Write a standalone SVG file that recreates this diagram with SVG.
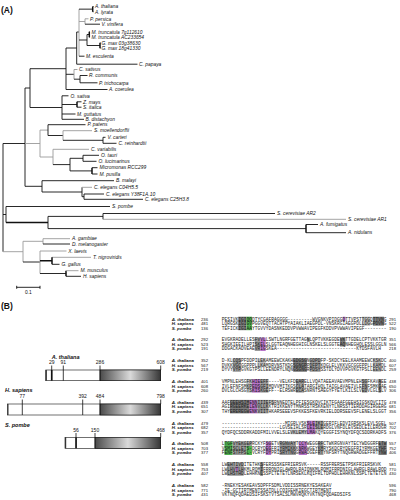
<svg xmlns="http://www.w3.org/2000/svg" width="400" height="500" viewBox="0 0 400 500">
<style>
.pl{font-family:"Liberation Sans",Arial,sans-serif;font-weight:bold;font-size:8.5px;fill:#111}
.lf{font-family:"Liberation Sans",Arial,sans-serif;font-style:italic;font-size:4.9px;fill:#111}
.br{fill:none;stroke:#111;stroke-width:0.9}
.gr{fill:none;stroke:#9a9a9a;stroke-width:0.9}
.tk{fill:none;stroke:#111;stroke-width:1.5}
.sp{font-family:"Liberation Sans",Arial,sans-serif;font-style:italic;font-weight:bold;font-size:5.5px;fill:#111}
.nm{font-family:"Liberation Sans",Arial,sans-serif;font-size:5px;fill:#111;text-anchor:middle}
.bar{fill:#fff;stroke:#111;stroke-width:0.6}
.dom{fill:url(#dom);stroke:#111;stroke-width:0.6}
.tick{stroke:#111;stroke-width:0.8}
.al{font-family:"Liberation Sans",Arial,sans-serif;font-style:italic;font-weight:bold;font-size:4.4px;fill:#111}
.an{font-family:"Liberation Sans",Arial,sans-serif;font-size:4.2px;fill:#111}
.ae{font-family:"Liberation Sans",Arial,sans-serif;font-size:4.2px;fill:#111}
.sq{font-family:"Liberation Mono","Courier New",monospace;font-size:4.58px;fill:#1a1a1a}
.g1{fill:#7d7d7d}.g2{fill:#9c9c9c}.g3{fill:#bdbdbd}.gn{fill:#4fb24f}.mg{fill:#b874c8}
</style>
<defs>
<linearGradient id="dom" x1="0" y1="0" x2="1" y2="0">
<stop offset="0" stop-color="#4a4a4a"/>
<stop offset="0.5" stop-color="#dadada"/>
<stop offset="1" stop-color="#363636"/>
</linearGradient>
</defs>
<rect width="400" height="500" fill="#fff"/>

<g id="panel-labels">
<text class="pl" x="1" y="12.5">(A)</text>
<text class="pl" x="1" y="309">(B)</text>
<text class="pl" x="176" y="309">(C)</text>
</g>

<g id="tree-connectors">
<path class="br" d="M3 143.5V251.7M3 143.5H25M3 214.5H6"/>
<path class="gr" d="M3 251.7H23"/>
<path class="br" d="M25 88V186.3M25 88H30M25 186.3H42"/>
<path class="gr" d="M25 143.5H40"/>
<path class="br" d="M30 68.7V107.5M30 68.7H66M30 107.5H62"/>
<path class="br" d="M66 48V89.5M66 48H76.7M66 74.3H74M66 89.5H107.5"/>
<path class="br" d="M76.7 32V64.2M76.7 32H79M76.7 64.2H137.5"/>
<path class="gr" d="M79 9.15V56.2M79 21.5H85"/>
<path class="br" d="M79 9.15H92.7M79 40H87M79 56.2H84.5"/>
<path class="tk" d="M92.7 6.5V11.8"/>
<path class="br" d="M92.7 6.5H93.5M92.7 11.8H93.5"/>
<path class="gr" d="M85 18.8V24.2M85 18.8H88.5"/>
<path class="br" d="M85 24.2H100"/>
<path class="br" d="M87 34.5V45.5M87 34.5H89.3M87 45.5H100"/>
<path class="tk" d="M89.3 31.8V37.2M100 42.8V48.2"/>
<path class="br" d="M89.3 31.8H90M89.3 37.2H90M100 42.8H100.5M100 48.2H100.5"/>
<path class="gr" d="M74 69.5V79.2M74 69.5H77.5"/>
<path class="br" d="M74 79.2H80M80 75.5V82.8M80 75.5H87.5M80 82.8H97.5"/>
<path class="br" d="M62 95.8V119.3M62 95.8H68.5M62 104.5H77M62 114H75.5M62 119.3H84"/>
<path class="tk" d="M77 101.8V107.2"/>
<path class="br" d="M77 101.8H81.5M77 107.2H81.5"/>
<path class="gr" d="M40 130.1V157M40 130.1H48M40 157H53"/>
<path class="br" d="M48 124.7V135.5M48 124.7H85.5M48 135.5H63"/>
<path class="gr" d="M63 130.7V140.3M63 130.7H92"/>
<path class="br" d="M63 140.3H103M103 137.3V143.3M103 137.3H105.5M103 143.3H116.5"/>
<path class="gr" d="M53 149.3V164.6M53 149.3H89"/>
<path class="br" d="M53 164.6H70M70 158.3V170.9M70 158.3H83M70 170.9H92"/>
<path class="br" d="M83 155.3V161.3M83 155.3H99M83 161.3H96.5"/>
<path class="tk" d="M92 167.7V174"/>
<path class="br" d="M92 167.7H97.5M92 174H97.5"/>
<path class="br" d="M42 180.7V192M42 180.7H114M42 192H82M82 187.3V196.7M82 196.7H84"/>
<path class="gr" d="M82 187.3H92"/>
<path class="br" d="M84 194V199.3M84 194H104M84 199.3H143"/>
<path class="br" d="M6 206.5V222.5M6 206.5H110"/>
<path class="tk" d="M6 222.5H48"/>
<path class="br" d="M48 216.4V228.6M48 216.4H103M48 228.6H306"/>
<path class="br" d="M103 213.5V219.3M103 213.5H275"/>
<path class="gr" d="M103 219.3H346"/>
<path class="tk" d="M306 224.5V232.7"/>
<path class="br" d="M306 224.5H318M306 232.7H346"/>
<path class="gr" d="M23 241.3V262M23 241.3H43"/>
<path class="br" d="M23 262H40"/>
<path class="gr" d="M43 238.7V244M43 238.7H70"/>
<path class="br" d="M43 244H70"/>
<path class="gr" d="M40 251V273.5M40 251H66.5M52 257.3H91"/>
<path class="tk" d="M40 260.8H52M52 257.3V264.3M66 270.7V276.3"/>
<path class="br" d="M40 273.5H66M52 264.3H59.5M66 276.3H81"/>
<path class="gr" d="M66 270.7H78.5"/>
</g>

<g id="tree-leaves">
<g id="n-athaliana"><text class="lf" x="95" y="8.2">A. thaliana</text></g>
<g id="n-alyrata"><text class="lf" x="95" y="13.5">A. lyrata</text></g>
<g id="n-ppersica"><text class="lf" x="90" y="20.5">P. persica</text></g>
<g id="n-vvinifera"><text class="lf" x="101.5" y="25.9">V. vinifera</text></g>
<g id="n-mtrunc1"><text class="lf" x="91.5" y="33.5">M. truncatula 7g112610</text></g>
<g id="n-mtrunc2"><text class="lf" x="91.5" y="38.9">M. truncatula AC233654</text></g>
<g id="n-gmax1"><text class="lf" x="101.5" y="44.5">G. max 03g38630</text></g>
<g id="n-gmax2"><text class="lf" x="101.5" y="49.9">G. max 18g41330</text></g>
<g id="n-mesculenta"><text class="lf" x="86" y="57.9">M. esculenta</text></g>
<g id="n-cpapaya"><text class="lf" x="139" y="65.9">C. papaya</text></g>
<g id="n-csativus"><text class="lf" x="79" y="71.2">C. sativus</text></g>
<g id="n-rcommunis"><text class="lf" x="89" y="77.2">R. communis</text></g>
<g id="n-ptrichocarpa"><text class="lf" x="99" y="84.5">P. trichocarpa</text></g>
<g id="n-acoerulea"><text class="lf" x="109" y="91.2">A. coerulea</text></g>
<g id="n-osativa"><text class="lf" x="70.5" y="97.5">O. sativa</text></g>
<g id="n-zmays"><text class="lf" x="83" y="103.5">Z. mays</text></g>
<g id="n-sitalica"><text class="lf" x="83" y="108.9">S. italica</text></g>
<g id="n-mguttatus"><text class="lf" x="77" y="115.7">M. guttatus</text></g>
<g id="n-bdistachyon"><text class="lf" x="85.5" y="121">B. distachyon</text></g>
<g id="n-ppatens"><text class="lf" x="87.5" y="126.4">P. patens</text></g>
<g id="n-smoell"><text class="lf" x="94" y="132.4">S. moellendorffii</text></g>
<g id="n-vcarteri"><text class="lf" x="107.5" y="139">V. carteri</text></g>
<g id="n-creinhardtii"><text class="lf" x="118.5" y="145">C. reinhardtii</text></g>
<g id="n-cvariabilis"><text class="lf" x="91" y="151">C. variabilis</text></g>
<g id="n-otauri"><text class="lf" x="101" y="157">O. tauri</text></g>
<g id="n-olucimarinus"><text class="lf" x="98.5" y="163">O. lucimarinus</text></g>
<g id="n-micromonas"><text class="lf" x="99.5" y="169.4">Micromonas RCC299</text></g>
<g id="n-mpusilla"><text class="lf" x="99.5" y="175.7">M. pusilla</text></g>
<g id="n-bmalayi"><text class="lf" x="116" y="182.4">B. malayi</text></g>
<g id="n-cel1"><text class="lf" x="94" y="189">C. elegans C04H5.5</text></g>
<g id="n-cel2"><text class="lf" x="106" y="195.7">C. elegans Y38F1A.10</text></g>
<g id="n-cel3"><text class="lf" x="145" y="201">C. elegans C25H3.8</text></g>
<g id="n-spombe"><text class="lf" x="112" y="208.2">S. pombe</text></g>
<g id="n-scer2"><text class="lf" x="277" y="215.2">S. cerevisiae AR2</text></g>
<g id="n-scer1"><text class="lf" x="348" y="221">S. cerevisiae AR1</text></g>
<g id="n-afumigatus"><text class="lf" x="320" y="226.2">A. fumigatus</text></g>
<g id="n-anidulans"><text class="lf" x="348" y="234.4">A. nidulans</text></g>
<g id="n-agambiae"><text class="lf" x="72" y="240.4">A. gambiae</text></g>
<g id="n-dmel"><text class="lf" x="72" y="245.7">D. melanogaster</text></g>
<g id="n-xlaevis"><text class="lf" x="68.3" y="252.7">X. laevis</text></g>
<g id="n-tnig"><text class="lf" x="93" y="259">T. nigroviridis</text></g>
<g id="n-ggallus"><text class="lf" x="61.5" y="266">G. gallus</text></g>
<g id="n-mmusculus"><text class="lf" x="80.5" y="272.4">M. musculus</text></g>
<g id="n-hsapiens"><text class="lf" x="83" y="278">H. sapiens</text></g>
</g>

<g id="scale-bar">
<path class="br" d="M16.7 287.3H40M16.7 285.8V288.8M40 285.8V288.8"/>
<text class="lf" style="font-style:normal" x="28.3" y="294" text-anchor="middle">0.1</text>
</g>

<g id="domain-athaliana">
<text class="sp" x="51.7" y="359.3">A. thaliana</text>
<rect class="bar" x="45.7" y="370" width="115" height="10.7"/>
<rect class="dom" x="100" y="370" width="60.7" height="10.7"/>
<line x1="46.3" y1="370" x2="46.3" y2="380.7" stroke="#333" stroke-width="1.2"/>
<line class="tick" x1="51.7" y1="365.5" x2="51.7" y2="370"/>
<rect x="50.9" y="370" width="1.7" height="10.7" fill="#111"/>
<line class="tick" x1="63.3" y1="365.5" x2="63.3" y2="380.7"/>
<line class="tick" x1="100" y1="365.5" x2="100" y2="380.7"/>
<line class="tick" x1="160.7" y1="365.5" x2="160.7" y2="370"/>
<text class="nm" x="51.7" y="364">29</text>
<text class="nm" x="63.3" y="364">91</text>
<text class="nm" x="100" y="364">286</text>
<text class="nm" x="160.7" y="364">608</text>
</g>

<g id="domain-hsapiens">
<text class="sp" x="5" y="392">H. sapiens</text>
<rect class="bar" x="7.3" y="404" width="153.4" height="11"/>
<rect class="dom" x="100" y="404" width="60.7" height="11"/>
<line x1="7.9" y1="404" x2="7.9" y2="415" stroke="#333" stroke-width="1.2"/>
<line class="tick" x1="22.3" y1="399.5" x2="22.3" y2="415"/>
<line class="tick" x1="82.7" y1="399.5" x2="82.7" y2="415"/>
<line class="tick" x1="100" y1="399.5" x2="100" y2="415"/>
<line class="tick" x1="160.7" y1="399.5" x2="160.7" y2="404"/>
<text class="nm" x="22.3" y="398">77</text>
<text class="nm" x="82.7" y="398">392</text>
<text class="nm" x="100" y="398">484</text>
<text class="nm" x="160.7" y="398">798</text>
</g>

<g id="domain-spombe">
<text class="sp" x="5" y="427">S. pombe</text>
<rect class="bar" x="65" y="437.3" width="95.7" height="11"/>
<rect class="dom" x="95" y="437.3" width="65.7" height="11"/>
<line x1="65.6" y1="437.3" x2="65.6" y2="448.3" stroke="#333" stroke-width="1.2"/>
<line class="tick" x1="76" y1="433" x2="76" y2="437.3"/>
<rect x="75.2" y="437.3" width="1.7" height="11" fill="#111"/>
<line class="tick" x1="95" y1="433" x2="95" y2="448.3"/>
<line class="tick" x1="160.7" y1="433" x2="160.7" y2="437.3"/>
<text class="nm" x="76" y="431.8">56</text>
<text class="nm" x="95" y="431.8">150</text>
<text class="nm" x="160.7" y="431.8">468</text>
</g>

<g id="alignment-highlights">
<rect class="g1" x="238.2" y="316.7" width="8.25" height="13.5"/>
<rect class="gn" x="246.45" y="316.7" width="5.5" height="13.5"/>
<rect class="mg" x="342.7" y="316.7" width="2.75" height="4.5"/>
<rect class="g3" x="361.95" y="316.7" width="8.25" height="9"/>
<rect class="g1" x="372.95" y="316.7" width="11" height="9"/>

<rect class="g2" x="254.7" y="337.5" width="5.5" height="13.5"/>
<rect class="mg" x="260.2" y="337.5" width="5.5" height="13.5"/>
<rect class="g2" x="306.95" y="337.5" width="2.75" height="4.5"/>
<rect class="g1" x="339.95" y="337.5" width="5.5" height="9"/>

<rect class="g2" x="232.7" y="358.3" width="8.25" height="13.5"/>
<rect class="g3" x="257.45" y="358.3" width="8.25" height="9"/>
<rect class="g1" x="293.2" y="358.3" width="13.75" height="13.5"/>
<rect class="g2" x="309.7" y="358.3" width="11" height="13.5"/>
<rect class="g3" x="372.95" y="358.3" width="8.25" height="13.5"/>

<rect class="g3" x="246.45" y="379.1" width="5.5" height="13.5"/>
<rect class="mg" x="251.95" y="379.1" width="8.25" height="13.5"/>
<rect class="g2" x="260.2" y="379.1" width="8.25" height="13.5"/>
<rect class="g2" x="295.95" y="379.1" width="8.25" height="13.5"/>
<rect class="g2" x="361.95" y="379.1" width="5.5" height="13.5"/>
<rect class="g1" x="378.45" y="379.1" width="2.75" height="13.5"/>

<rect class="g1" x="229.95" y="399.9" width="19.25" height="13.5"/>
<rect class="mg" x="249.2" y="399.9" width="8.25" height="13.5"/>
<rect class="g2" x="257.45" y="399.9" width="11" height="13.5"/>
<rect class="g3" x="268.45" y="399.9" width="5.5" height="4.5"/>

<rect class="g3" x="290.45" y="429.7" width="16.5" height="4.5"/>
<rect class="mg" x="306.95" y="420.7" width="8.25" height="13.5"/>
<rect class="g2" x="315.2" y="420.7" width="8.25" height="9"/>

<rect class="gn" x="224.45" y="441.5" width="8.25" height="13.5"/>
<rect class="g2" x="232.7" y="441.5" width="13.75" height="13.5"/>
<rect class="g2" x="246.45" y="441.5" width="5.5" height="4.5"/>
<rect class="gn" x="246.45" y="446" width="5.5" height="9"/>
<rect class="mg" x="265.7" y="441.5" width="5.5" height="13.5"/>
<rect class="g2" x="279.45" y="441.5" width="16.5" height="13.5"/>
<rect class="mg" x="298.7" y="441.5" width="8.25" height="13.5"/>
<rect class="g2" x="317.95" y="441.5" width="5.5" height="13.5"/>
<rect class="g1" x="378.45" y="441.5" width="8.25" height="13.5"/>

<rect class="g2" x="227.2" y="462.3" width="16.5" height="13.5"/>
<rect class="mg" x="235.45" y="466.8" width="2.75" height="4.5"/>
<rect class="g1" x="260.2" y="462.3" width="2.75" height="13.5"/>
</g>

<g id="alignment-block1">
<text class="al" x="171.7" y="320.6">A. thaliana</text><text class="an" x="208" y="320.6" text-anchor="end">236</text><text class="sq" x="221.7" y="320.6">PESIVKIGIQQDTYCGAFRAGGGG---------WVGNKVPIDGGDTTVPSTTGGDTTVNG</text><text class="ae" x="389" y="320.6">291</text>
<text class="al" x="171.7" y="325.1">H. sapiens</text><text class="an" x="208" y="325.1" text-anchor="end">481</text><text class="sq" x="221.7" y="325.1">LQRGSKIGIGVPGGVEQTTACHTPYAIAKLIAEGPDL-VNSKRGIAEGPDLLDGGPDVNG</text><text class="ae" x="389" y="325.1">522</text>
<text class="al" x="171.7" y="329.6">S. pombe</text><text class="an" x="208" y="329.6" text-anchor="end">136</text><text class="sq" x="221.7" y="329.6">TEFICKIGIAAYTGVVYDASNKEDDVPVWWAVIPEGFKDDVPVWWAVIPEGF--------</text><text class="ae" x="389" y="329.6">190</text>
</g>
<g id="alignment-block2">
<text class="al" x="171.7" y="341.4">A. thaliana</text><text class="an" x="208" y="341.4" text-anchor="end">292</text><text class="sq" x="221.7" y="341.4">EVGKRADELLESFVVLLSWTLNGRFGETTAGNLQPTVKKEGDEVKTTGDELCPTVKKTGR</text><text class="ae" x="389" y="341.4">351</text>
<text class="al" x="171.7" y="345.9">H. sapiens</text><text class="an" x="208" y="345.9" text-anchor="end">523</text><text class="sq" x="221.7" y="345.9">SHGKIEEILHPISKELSLGGTEAQNHEGHIGLNSKELSLGGTEAQNHEGHQLESSLGGLN</text><text class="ae" x="389" y="345.9">566</text>
<text class="al" x="171.7" y="350.4">S. pombe</text><text class="an" x="208" y="350.4" text-anchor="end">191</text><text class="sq" x="221.7" y="350.4">DDGACKADVEAEVRIGSKEA-----------------------------KYDSFAVLH</text><text class="ae" x="389" y="350.4">218</text>
</g>
<g id="alignment-block3">
<text class="al" x="171.7" y="362.2">A. thaliana</text><text class="an" x="208" y="362.2" text-anchor="end">352</text><text class="sq" x="221.7" y="362.2">D-KLCQSPFDDPILEKAMEEWCKAKHEDGSGNGDPDFP-SKDCYEELKAAMEEWCKSKDC</text><text class="ae" x="389" y="362.2">400</text>
<text class="al" x="171.7" y="366.7">H. sapiens</text><text class="an" x="208" y="366.7" text-anchor="end">567</text><text class="sq" x="221.7" y="366.7">DVKKVGCGGPPPLLKAMDRVNSTKDGSGNGPPDFPTKDGLELVKKVGCGGFPPLLKAMDL</text><text class="ae" x="389" y="366.7">607</text>
<text class="al" x="171.7" y="371.2">S. pombe</text><text class="an" x="208" y="371.2" text-anchor="end">219</text><text class="sq" x="221.7" y="371.2">DYVYVYPGVKGTPSLLEENDRYLNQNGSGNGRPDSYSSTDLYDVVPGVKGTPSLLEENDL</text><text class="ae" x="389" y="371.2">259</text>
</g>
<g id="alignment-block4">
<text class="al" x="171.7" y="383">A. thaliana</text><text class="an" x="208" y="383" text-anchor="end">401</text><text class="sq" x="221.7" y="383">VMPNLEHSGFKHIEEFF----VELKFDEARELLVQATAEEAVAEVMPNLEHSGFKAVAEE</text><text class="ae" x="389" y="383">438</text>
<text class="al" x="171.7" y="387.5">H. sapiens</text><text class="an" x="208" y="387.5" text-anchor="end">608</text><text class="sq" x="221.7" y="387.5">IVLEFNFSMKPEDSGFIMDVVMITKGSCLATARGIHQLTAIGLAVAEIVLEFNFSMKGAE</text><text class="ae" x="389" y="387.5">650</text>
<text class="al" x="171.7" y="392">S. pombe</text><text class="an" x="208" y="392" text-anchor="end">260</text><text class="sq" x="221.7" y="392">DVLGLCHSGTSKISKGEFF--ELRSWRECASNRNTSAEGYFYETLKILSLVEDVLGLSLV</text><text class="ae" x="389" y="392">306</text>
</g>
<g id="alignment-block5">
<text class="al" x="171.7" y="403.8">A. thaliana</text><text class="an" x="208" y="403.8" text-anchor="end">439</text><text class="sq" x="221.7" y="403.8">AAFGEEHSIMENNIIIEFSRNNEDTELPFIESGKQVCIKTFGAAFGEEHSIGSKQVCITG</text><text class="ae" x="389" y="403.8">478</text>
<text class="al" x="171.7" y="408.3">H. sapiens</text><text class="an" x="208" y="408.3" text-anchor="end">651</text><text class="sq" x="221.7" y="408.3">AGIRGEERKELENVLLKKTRIKKENYTMNRSSTRSKKENYTLNRSSTIERDDAGIRGERG</text><text class="ae" x="389" y="408.3">681</text>
<text class="al" x="171.7" y="412.8">S. pombe</text><text class="an" x="208" y="412.8" text-anchor="end">307</text><text class="sq" x="221.7" y="412.8">THYEREREGWENKVIITHKARSEEEVSFKKESFKEVRKIELDDRSEEVSFLENELSLGGT</text><text class="ae" x="389" y="412.8">356</text>
</g>
<g id="alignment-block6">
<text class="al" x="171.7" y="424.6">A. thaliana</text><text class="an" x="208" y="424.6" text-anchor="end">479</text><text class="sq" x="221.7" y="424.6">-----------------------MIGRLVSKSLEIKIGERIFLEDVIGRSKSLEVLSGEL</text><text class="ae" x="389" y="424.6">507</text>
<text class="al" x="171.7" y="429.1">H. sapiens</text><text class="an" x="208" y="429.1" text-anchor="end">682</text><text class="sq" x="221.7" y="429.1">---------------------LGVSEIHLSRLEISLERDGLVNFDLEVSEDLEILERDGR</text><text class="ae" x="389" y="429.1">702</text>
<text class="al" x="171.7" y="433.6">S. pombe</text><text class="an" x="208" y="433.6" text-anchor="end">357</text><text class="sq" x="221.7" y="433.6">QYDFQCSDDRKADDFMILVVELSLEVKLEMYLMAKQYEGGFISYNQYDFQCSDDRKADFS</text><text class="ae" x="389" y="433.6">376</text>
</g>
<g id="alignment-block7">
<text class="al" x="171.7" y="445.4">A. thaliana</text><text class="an" x="208" y="445.4" text-anchor="end">508</text><text class="sq" x="221.7" y="445.4">LTGFVYEKGEPRCKYFSGETVRGNVAYTCCYWEGGRFCTWKRGNVAYTECYWDGGRFETW</text><text class="ae" x="389" y="445.4">557</text>
<text class="al" x="171.7" y="449.9">H. sapiens</text><text class="an" x="208" y="449.9" text-anchor="end">703</text><text class="sq" x="221.7" y="449.9">VSMISCLETS-DCRYDEGFRIYRMIKKKNRKWGEYKMRYSKDCRYDEGFRIYRMKGEYHF</text><text class="ae" x="389" y="449.9">752</text>
<text class="al" x="171.7" y="454.4">S. pombe</text><text class="an" x="208" y="454.4" text-anchor="end">377</text><text class="sq" x="221.7" y="454.4">FENFSTFPSL-VCRYFDYPRISRYTNGGRWADGEFRTYNFSRYTNQGRWADGEFFRTYNW</text><text class="ae" x="389" y="454.4">406</text>
</g>
<g id="alignment-block8">
<text class="al" x="171.7" y="466.2">A. thaliana</text><text class="an" x="208" y="466.2" text-anchor="end">558</text><text class="sq" x="221.7" y="466.2">LWEHTIVDITETHKSFERSSSKEFRIERSVK-----RSSFRERSETPSKFRIERSKVK</text><text class="ae" x="389" y="466.2">581</text>
<text class="al" x="171.7" y="470.7">H. sapiens</text><text class="an" x="208" y="470.7" text-anchor="end">753</text><text class="sq" x="221.7" y="470.7">LWLHVTLHKMLRQMIFRRQNIGLAWRQLRAIQNKMLRQMIFRRDNIGLAWRGLRAWLRQD</text><text class="ae" x="389" y="470.7">770</text>
<text class="al" x="171.7" y="475.2">S. pombe</text><text class="an" x="208" y="475.2" text-anchor="end">407</text><text class="sq" x="221.7" y="475.2">LWLHSTHDLEHHKNLSSPLTETETLNRSEKLKQIFRLTDPHDLEHHKNLSSPLTETETLN</text><text class="ae" x="389" y="475.2">430</text>
</g>
<g id="alignment-block9">
<text class="al" x="171.7" y="487">A. thaliana</text><text class="an" x="208" y="487" text-anchor="end">582</text><text class="sq" x="221.7" y="487">-RNEKYESAKEAVSDPFFSDMLVDDISSRNEKYESAKEAV</text><text class="ae" x="389" y="487">596</text>
<text class="al" x="171.7" y="491.5">H. sapiens</text><text class="an" x="208" y="491.5" text-anchor="end">771</text><text class="sq" x="221.7" y="491.5">-IE-GCTIRTMENTSSATDLLCQIGEHKIEGCTIRTMENT</text><text class="ae" x="389" y="491.5">790</text>
<text class="al" x="171.7" y="496">S. pombe</text><text class="an" x="208" y="496" text-anchor="end">431</text><text class="sq" x="221.7" y="496">VKTNQFQDAEDSIFSKSTVTSALSLMWVRQKYVKTNQFQDAEDSIFS</text><text class="ae" x="389" y="496">468</text>
</g>
</svg>
